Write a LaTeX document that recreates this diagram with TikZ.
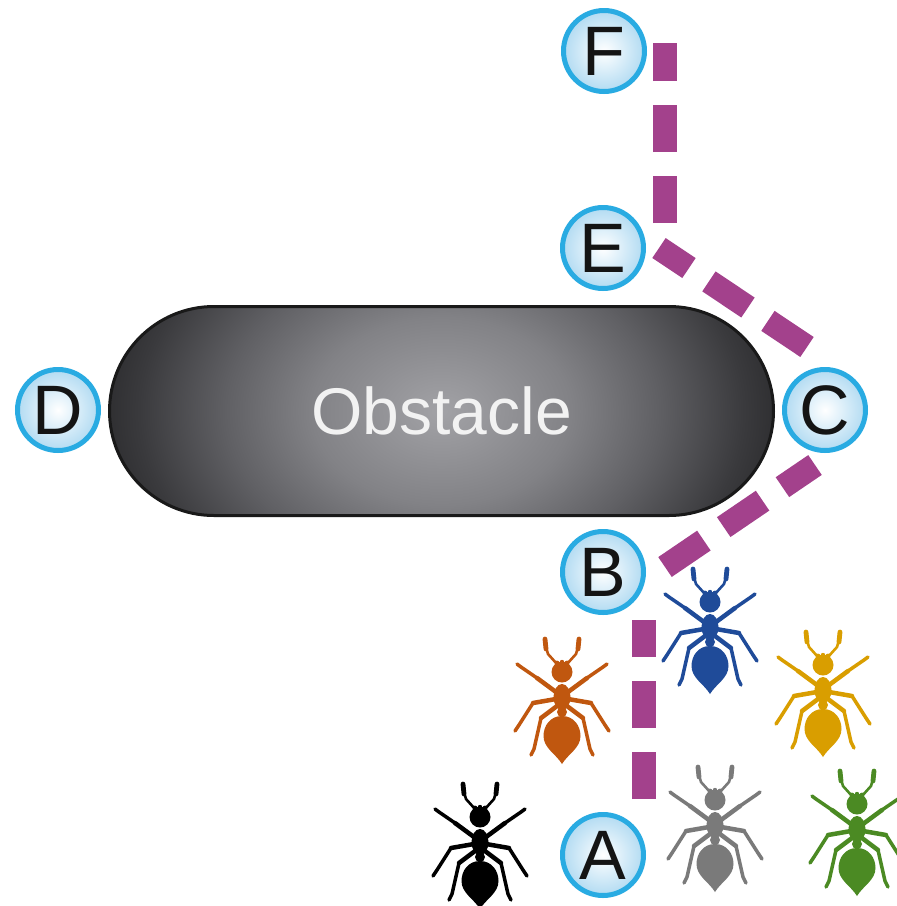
\documentclass[tikz,border=0pt]{standalone}
\usepackage{fontspec}
\setmainfont{Liberation Sans}
\usetikzlibrary{calc}

\definecolor{trail}{RGB}{163,65,140}
\definecolor{ring}{RGB}{41,171,226}
\definecolor{bubble}{RGB}{178,219,242}
\definecolor{rock0}{RGB}{162,162,166}
\definecolor{rock1}{RGB}{130,130,134}
\definecolor{rock2}{RGB}{96,96,100}
\definecolor{rock3}{RGB}{58,58,61}
\definecolor{rock4}{RGB}{38,38,40}
\definecolor{antblack}{RGB}{0,0,0}
\definecolor{antorange}{RGB}{192,87,15}
\definecolor{antblue}{RGB}{31,75,153}
\definecolor{antgold}{RGB}{217,158,0}
\definecolor{antgray}{RGB}{122,122,122}
\definecolor{antgreen}{RGB}{75,138,35}

% soft grey glow of the obstacle
\pgfdeclareradialshading{rockglow}{\pgfpoint{0bp}{0bp}}{%
  color(0bp)=(rock0); color(9bp)=(rock1); color(15bp)=(rock2);
  color(21bp)=(rock3); color(25bp)=(rock4); color(50bp)=(rock4)}

\tikzset{
  waypoint/.style={circle, draw=ring, line width=5pt, minimum size=81pt,
    inner sep=0pt, inner color=white, outer color=bubble,
    text=black!92, font=\fontsize{70}{80}\selectfont},
  obstacle/.style={rectangle, draw=black!90, line width=3pt,
    minimum width=664pt, minimum height=209pt, rounded corners=104.5pt,
    path picture={
      \fill[rock4] (path picture bounding box.south west)
        rectangle (path picture bounding box.north east);
      \shade[shading=rockglow] (path picture bounding box.center)
        ellipse [x radius=360, y radius=260];
    },
    text=white!95!black, font=\fontsize{66}{76}\selectfont},
  trailseg/.style={draw=trail, line width=24pt, dash pattern=on 47pt off 24pt},
  ant/.pic={
    % legs and antennae, both sides mirrored
    \foreach \s in {1,-1}{
      \begin{scope}[xscale=\s, line cap=round, line join=round]
        \draw[line width=4.5pt] (-6,-5) -- (-25,-19);
        \draw[line width=3.5pt] (-25,-19) -- (-41,-30) -- (-45,-33);
        \draw[line width=4.5pt] (-6,2) -- (-29,6);
        \draw[line width=3.5pt] (-29,6) -- (-43,28) -- (-47,34);
        \draw[line width=4.5pt] (-5,9) -- (-21,21);
        \draw[line width=3.5pt] (-21,21) -- (-28,52) -- (-31,58);
        \draw[line width=2.6pt] (-5,-33) -- (-14,-43) -- (-16,-50);
        \draw[line width=4.8pt] (-16,-48) -- (-17,-58);
        \fill (-5,-34) circle (2.4);
      \end{scope}
    }
    % head, thorax, petiole and abdomen
    \fill (0,-35) circle (2.2);
    \fill (0,-25) ellipse [x radius=10.5, y radius=10.5];
    \fill (0,0) ellipse [x radius=8.5, y radius=13];
    \fill (0,15) ellipse [x radius=5, y radius=5];
    \fill (0,19) .. controls (12,19) and (18.5,29) .. (18.5,39)
      .. controls (18.5,51) and (6,57) .. (0,67)
      .. controls (-6,57) and (-18.5,51) .. (-18.5,39)
      .. controls (-18.5,29) and (-12,19) .. (0,19) -- cycle;
  }
}

\begin{document}
\begin{tikzpicture}[x=1pt, y=-1pt]
  % canvas
  \fill[white] (0,0) rectangle (897,906);
  \useasboundingbox (0,0) rectangle (897,906);

  % the obstacle
  \node[obstacle] (O) at (441.5,411) {Obstacle};

  % waypoints
  \node[waypoint] (F) at (604,51) {F};
  \node[waypoint] (E) at (603,248) {E};
  \node[waypoint] (D) at (58,410) {D};
  \node[waypoint] (C) at (825,410) {C};
  \node[waypoint] (B) at (603,572) {B};
  \node[waypoint] (A) at (603,855) {A};

  % trail ends beside each waypoint
  \coordinate (ab0) at ($(A)+(41,-56)$);
  \coordinate (ab1) at ($(B)+(41,48)$);
  \coordinate (bc0) at ($(B)+(62,-5)$);
  \coordinate (bc1) at ($(C)+(-10,55)$);
  \coordinate (ce0) at ($(C)+(-18,-63)$);
  \coordinate (ce1) at ($(E)+(56,0)$);
  \coordinate (ef0) at ($(E)+(62,-25)$);
  \coordinate (ef1) at ($(F)+(61,-8)$);

  % the trail
  \draw[trailseg] (ab0) -- (ab1);
  \draw[trailseg] (bc0) -- (bc1);
  \draw[trailseg] (ce0) -- (ce1);
  \draw[trailseg] (ef0) -- (ef1);

  % the ants
  \pic[color=antblack]  (ant1) at (480,842) {ant};
  \pic[color=antorange] (ant2) at (562,697) {ant};
  \pic[color=antblue]   (ant3) at (710,627) {ant};
  \pic[color=antgold]   (ant4) at (823,690) {ant};
  \pic[color=antgray]   (ant5) at (715,825) {ant};
  \pic[color=antgreen]  (ant6) at (857,829) {ant};
\end{tikzpicture}
\end{document}
